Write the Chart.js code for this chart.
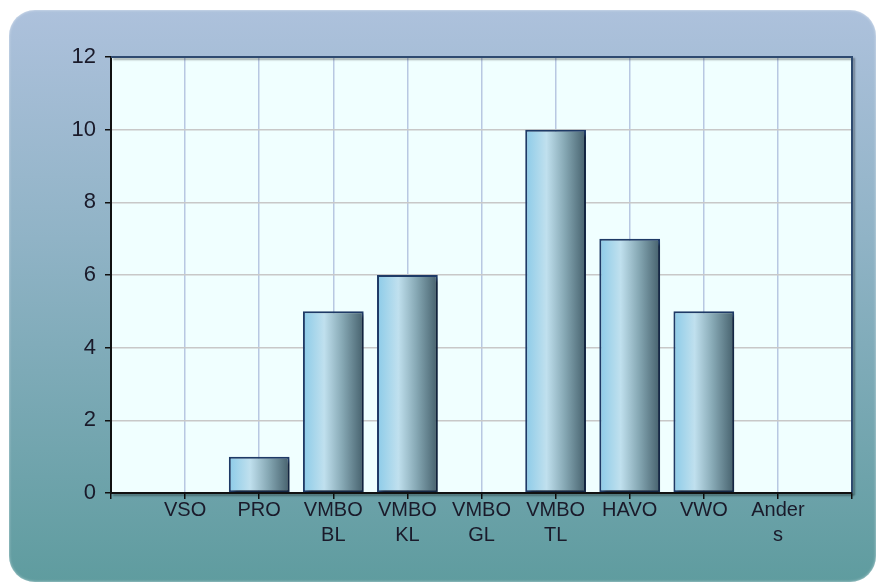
<!DOCTYPE html>
<html lang="nl">
<head>
    <meta charset="UTF-8">
    <title>Aantal per schooltype</title>
    <script src="https://cdn.jsdelivr.net/npm/chart.js"></script>
    <style>
        html, body { margin: 0; padding: 0; background: #fff; }
        #panel {
            position: absolute;
            left: 9px; top: 10px;
            width: 867px; height: 572px;
            border-radius: 26px;
            background: linear-gradient(to bottom, #adc1dc 0%, #90b3c6 40%, #5f9c9f 100%);
            box-shadow: inset 0 0 3px rgba(255,255,255,0.6);
        }
        #wrap { position: absolute; left: 0; top: 0; width: 879px; height: 583px; }
    </style>
</head>
<body>
    <div id="panel"></div>
    <div id="wrap"><canvas id="myChart" width="879" height="583"></canvas></div>

    <script>
        // empty slots at both ends give the one-category margin of the original
        const categories = ['', 'VSO', 'PRO', ['VMBO', 'BL'], ['VMBO', 'KL'], ['VMBO', 'GL'],
                            ['VMBO', 'TL'], 'HAVO', 'VWO', ['Ander', 's'], ''];
        const counts = [null, 0, 1, 5, 6, 0, 10, 7, 5, 0, null];
        const yTicks = [0, 2, 4, 6, 8, 10, 12];

        const BAR_PCT = 0.82;

        function barGradient(ctx) {
            const chart = ctx.chart;
            if (!chart.chartArea) return '#9ccbe0';
            const xs = chart.scales.x;
            const cx = xs.getPixelForValue(ctx.dataIndex);
            const half = (xs.width / (categories.length - 1)) * BAR_PCT / 2;
            const g = chart.ctx.createLinearGradient(cx - half, 0, cx + half, 0);
            g.addColorStop(0, '#8ccbe8');
            g.addColorStop(0.35, '#c0e0ee');
            g.addColorStop(0.65, '#86a8b4');
            g.addColorStop(1, '#45606c');
            return g;
        }

        // drop shadow under the bars
        const shadowPlugin = {
            id: 'barShadow',
            beforeDatasetsDraw(chart) {
                const c = chart.ctx;
                c.save();
                c.shadowColor = 'rgba(0,0,0,0.45)';
                c.shadowOffsetX = 3;
                c.shadowOffsetY = 3;
                c.shadowBlur = 3;
            },
            afterDatasetsDraw(chart) {
                chart.ctx.restore();
            }
        };

        // top and right edges of the plot area, bottom axis redrawn with shadow
        const framePlugin = {
            id: 'frame',
            afterDraw(chart) {
                const { left, top, right, bottom } = chart.chartArea;
                const c = chart.ctx;
                c.save();
                c.shadowColor = 'rgba(0,0,0,0.35)';
                c.shadowOffsetX = 2;
                c.shadowOffsetY = 2;
                c.shadowBlur = 2;
                c.strokeStyle = '#2e4a70';
                c.lineWidth = 2;
                c.beginPath();
                c.moveTo(left, top);
                c.lineTo(right, top);
                c.lineTo(right, bottom);
                c.stroke();
                c.strokeStyle = '#111';
                c.beginPath();
                c.moveTo(left, bottom);
                c.lineTo(right, bottom);
                c.stroke();
                c.restore();
            }
        };

        const plotBg = {
            id: 'plotBg',
            beforeDraw(chart) {
                const { left, top, width, height } = chart.chartArea;
                chart.ctx.save();
                chart.ctx.fillStyle = '#f0ffff';
                chart.ctx.fillRect(left, top, width, height);
                chart.ctx.restore();
            }
        };

        new Chart(document.getElementById('myChart'), {
            type: 'bar',
            data: {
                labels: categories,
                datasets: [{
                    data: counts,
                    backgroundColor: barGradient,
                    borderColor: '#1e3a66',
                    borderWidth: 2,
                    borderSkipped: false,
                    categoryPercentage: 1,
                    barPercentage: BAR_PCT
                }]
            },
            options: {
                responsive: false,
                animation: false,
                layout: { padding: { left: 40, top: 57, right: 27, bottom: 20 } },
                plugins: {
                    legend: { display: false },
                    tooltip: { enabled: false }
                },
                scales: {
                    x: {
                        offset: false,
                        grid: {
                            color: '#b8c8e2',
                            lineWidth: 1.5,
                            tickColor: '#111',
                            tickLength: 6,
                            offset: false
                        },
                        border: { color: '#111', width: 2 },
                        ticks: {
                            color: '#1a1a2a',
                            font: { family: 'Liberation Sans', size: 20, lineHeight: 1.25 },
                            padding: -1,
                            autoSkip: false,
                            maxRotation: 0
                        },
                        afterFit(s) { s.height = 70; }
                    },
                    y: {
                        min: 0,
                        max: 12,
                        afterBuildTicks(s) { s.ticks = yTicks.map(v => ({ value: v })); },
                        grid: {
                            color: '#c8c8c8',
                            lineWidth: 1.5,
                            tickColor: '#111',
                            tickLength: 6
                        },
                        border: { color: '#111', width: 2 },
                        ticks: {
                            color: '#1a1a2a',
                            font: { family: 'Liberation Sans', size: 22 },
                            padding: 9
                        },
                        afterFit(s) { s.width = 71; }
                    }
                }
            },
            plugins: [plotBg, shadowPlugin, framePlugin]
        });
    </script>
</body>
</html>
